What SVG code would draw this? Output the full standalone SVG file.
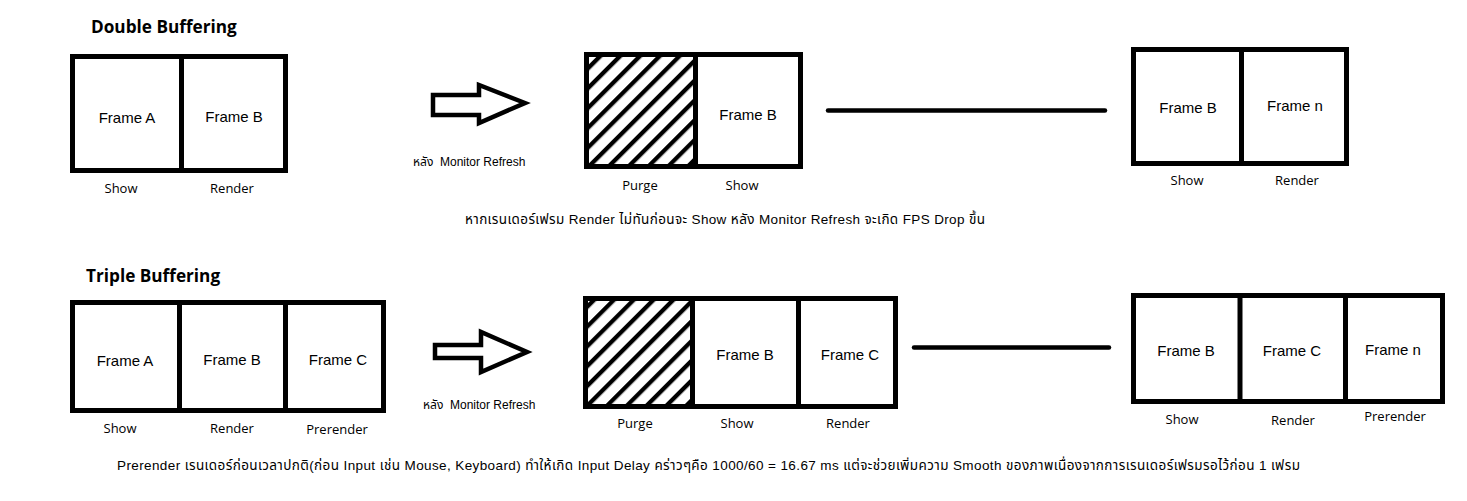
<svg xmlns="http://www.w3.org/2000/svg" width="1467" height="501" viewBox="0 0 1467 501">
<defs>
<style>
.box{fill:#fff;stroke:#000;stroke-width:5}
.div{stroke:#000;stroke-width:5}
.fr{font-family:"Liberation Sans",Arial,sans-serif;font-size:15px;fill:#000;text-anchor:middle}
.lb{font-family:"Open Sans","Noto Sans",sans-serif;font-size:13px;fill:#000;text-anchor:middle}
.ti{font-family:"Open Sans","Noto Sans",sans-serif;font-size:17.2px;font-weight:bold;fill:#000}
.sm{font-family:"Liberation Sans","Noto Sans Thai","Noto Sans",sans-serif;font-size:12px;fill:#000;white-space:pre}
.nt{font-family:"Liberation Sans","Noto Sans Thai","Noto Sans",sans-serif;font-size:13.5px;fill:#000}
.arr{fill:#fff;stroke:#000;stroke-width:4.5;stroke-linejoin:miter}
.conn{stroke:#000;stroke-width:4.5;stroke-linecap:round}
</style>
<pattern id="hatch" patternUnits="userSpaceOnUse" width="14" height="14" patternTransform="rotate(45)">
<rect width="14" height="14" fill="#fff"/>
<rect x="0" y="0" width="4.3" height="14" fill="#000"/>
</pattern>
</defs>
<rect width="1467" height="501" fill="#fff"/>

<text class="ti" x="91" y="33">Double Buffering</text>
<text class="ti" x="86" y="282">Triple Buffering</text>

<g id="db-initial">
<rect class="box" x="72.5" y="56.5" width="213" height="114"/>
<line class="div" x1="181.5" y1="56.5" x2="181.5" y2="170.5"/>
<text class="fr" x="127" y="123">Frame A</text>
<text class="fr" x="234" y="122">Frame B</text>
<text class="lb" x="121" y="193">Show</text>
<text class="lb" x="232" y="193">Render</text>
</g>

<g id="db-arrow">
<polygon class="arr" points="433,95 479,95 479,85 525,103 479,123 479,115 433,115"/>
<text class="sm" x="413" y="166" xml:space="preserve">หลัง  Monitor Refresh</text>
</g>

<g id="db-after">
<rect x="586.5" y="54.5" width="109" height="112" fill="url(#hatch)"/>
<rect class="box" x="695.5" y="54.5" width="105" height="112"/>
<rect x="586.5" y="54.5" width="214" height="112" fill="none" stroke="#000" stroke-width="5"/>
<text class="fr" x="748" y="120">Frame B</text>
<text class="lb" x="640" y="190">Purge</text>
<text class="lb" x="742" y="190">Show</text>
</g>

<g id="db-final">
<rect class="box" x="1133.5" y="49.5" width="213" height="114"/>
<line class="div" x1="1241.5" y1="49.5" x2="1241.5" y2="163.5"/>
<text class="fr" x="1188" y="113">Frame B</text>
<text class="fr" x="1295" y="111">Frame n</text>
<text class="lb" x="1187" y="185">Show</text>
<text class="lb" x="1297" y="185">Render</text>
</g>

<g id="db-note">
<text class="nt" x="465" y="224" textLength="520">หากเรนเดอร์เฟรม Render ไม่ทันก่อนจะ Show หลัง Monitor Refresh จะเกิด FPS Drop ขึ้น</text>
</g>

<g id="tb-initial">
<rect class="box" x="72.5" y="302.5" width="311" height="108"/>
<line class="div" x1="179.5" y1="302.5" x2="179.5" y2="410.5"/>
<line class="div" x1="285.5" y1="302.5" x2="285.5" y2="410.5"/>
<text class="fr" x="125" y="366">Frame A</text>
<text class="fr" x="232" y="365">Frame B</text>
<text class="fr" x="338" y="365">Frame C</text>
<text class="lb" x="120" y="433">Show</text>
<text class="lb" x="232" y="433">Render</text>
<text class="lb" x="337" y="434">Prerender</text>
</g>

<g id="tb-arrow">
<polygon class="arr" points="435,345 481,345 481,332 527,352 481,372 481,358 435,358"/>
<text class="sm" x="423" y="409" xml:space="preserve">หลัง  Monitor Refresh</text>
</g>

<g id="tb-after">
<rect x="585.5" y="298.5" width="107" height="108" fill="url(#hatch)"/>
<rect class="box" x="692.5" y="298.5" width="106" height="108"/>
<rect class="box" x="798.5" y="298.5" width="97" height="108"/>
<rect x="585.5" y="298.5" width="310" height="108" fill="none" stroke="#000" stroke-width="5"/>
<text class="fr" x="745" y="360">Frame B</text>
<text class="fr" x="850" y="360">Frame C</text>
<text class="lb" x="635" y="428">Purge</text>
<text class="lb" x="737" y="428">Show</text>
<text class="lb" x="848" y="428">Render</text>
</g>

<g id="tb-final">
<rect class="box" x="1133.5" y="295.5" width="309" height="106"/>
<line class="div" x1="1240" y1="295.5" x2="1240" y2="401.5"/>
<line class="div" x1="1345.5" y1="295.5" x2="1345.5" y2="401.5"/>
<text class="fr" x="1186" y="356">Frame B</text>
<text class="fr" x="1292" y="356">Frame C</text>
<text class="fr" x="1393" y="355">Frame n</text>
<text class="lb" x="1182" y="424">Show</text>
<text class="lb" x="1293" y="425">Render</text>
<text class="lb" x="1395" y="421">Prerender</text>
</g>

<g id="tb-note">
<text class="nt" x="117" y="470" textLength="1183">Prerender เรนเดอร์ก่อนเวลาปกติ(ก่อน Input เช่น Mouse, Keyboard) ทำให้เกิด Input Delay คร่าวๆคือ 1000/60 = 16.67 ms แต่จะช่วยเพิ่มความ Smooth ของภาพเนื่องจากการเรนเดอร์เฟรมรอไว้ก่อน 1 เฟรม</text>
</g>

<g id="connectors">
<line class="conn" x1="828" y1="110.5" x2="1105" y2="110.5"/>
<line class="conn" x1="914" y1="347.5" x2="1109" y2="347.5"/>
</g>
</svg>
